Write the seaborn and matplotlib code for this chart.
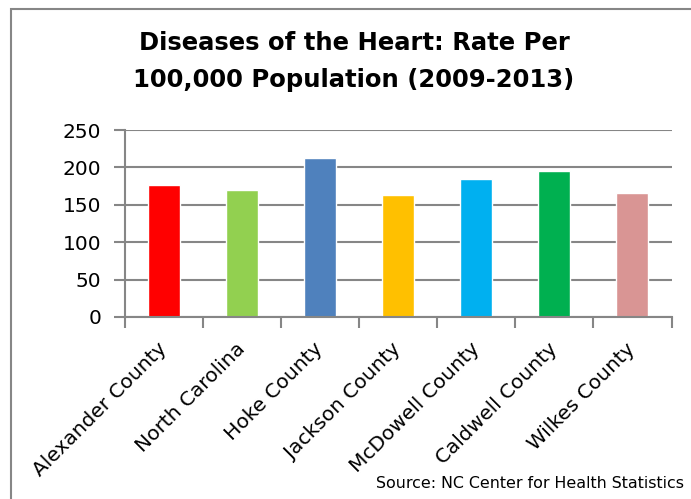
import matplotlib
matplotlib.use("Agg")
import matplotlib.pyplot as plt
import seaborn as sns
import numpy as np
import pandas as pd
from matplotlib.patches import Rectangle

categories = ["Alexander County", "North Carolina", "Hoke County", "Jackson County",
              "McDowell County", "Caldwell County", "Wilkes County"]
values = [176, 170, 213, 163, 184, 195, 166]
colors = ["#FF0000", "#92D050", "#4F81BD", "#FFC000", "#00B0F0", "#00B050", "#D99594"]
yticks = [0, 50, 100, 150, 200, 250]
title_lines = ["Diseases of the Heart: Rate Per", "100,000 Population (2009-2013)"]
source = "Source: NC Center for Health Statistics"

sns.set_theme(style="white")
plt.rcParams['font.family'] = ['DejaVu Sans']
plt.rcParams['text.color'] = 'black'

W, H = 691, 499
fig = plt.figure(figsize=(W / 100, H / 100), dpi=100)
ax = fig.add_axes([125 / W, 1 - 317 / H, (671.5 - 125) / W, (317 - 130) / H])

df = pd.DataFrame({"cat": categories, "val": values})
sns.barplot(data=df, x="cat", y="val", hue="cat", palette=colors, legend=False,
            width=0.41, ax=ax, saturation=1)

grid_c = "#868686"
ax.set_ylim(0, 250)
ax.set_xlim(-0.5, len(categories) - 0.5)
ax.set_yticks(yticks)
ax.set_yticklabels([str(v) for v in yticks], fontsize=14.5, color="black")
ax.yaxis.grid(True, color=grid_c, linewidth=1.5)
ax.set_axisbelow(True)
ax.tick_params(axis="y", length=8, width=1.5, color=grid_c, pad=9, left=True)

ax.set_xticks(np.arange(-0.5, len(categories), 1.0))
ax.set_xticklabels([])
ax.set_xticks(np.arange(len(categories)), minor=True)
ax.set_xticklabels(categories, minor=True, rotation=45, ha="right", va="center",
                   rotation_mode="anchor", fontsize=14.5, color="black")
ax.tick_params(axis="x", which="major", length=8, width=1.5, color=grid_c, bottom=True)
ax.tick_params(axis="x", which="minor", length=0, pad=21)

for s in ["top", "right"]:
    ax.spines[s].set_visible(False)
for s in ["left", "bottom"]:
    ax.spines[s].set_color(grid_c)
    ax.spines[s].set_linewidth(1.5)
ax.set_xlabel("")
ax.set_ylabel("")

# outer chart border
fig.patches.append(Rectangle((11 / W, -0.2), 1.2, 1 - 9 / H + 0.2, transform=fig.transFigure,
                             fill=False, edgecolor=grid_c, linewidth=1.5, clip_on=False))

fig.text(354 / W, 1 - 50 / H, title_lines[0], ha="center", va="baseline",
         fontsize=17.5, fontweight="bold", color="black")
fig.text(354 / W, 1 - 87 / H, title_lines[1], ha="center", va="baseline",
         fontsize=17.5, fontweight="bold", color="black")
fig.text(376 / W, 1 - 488 / H, source, ha="left", va="baseline", fontsize=11.4,
         color="black")

fig.savefig("out.png", dpi=100)
